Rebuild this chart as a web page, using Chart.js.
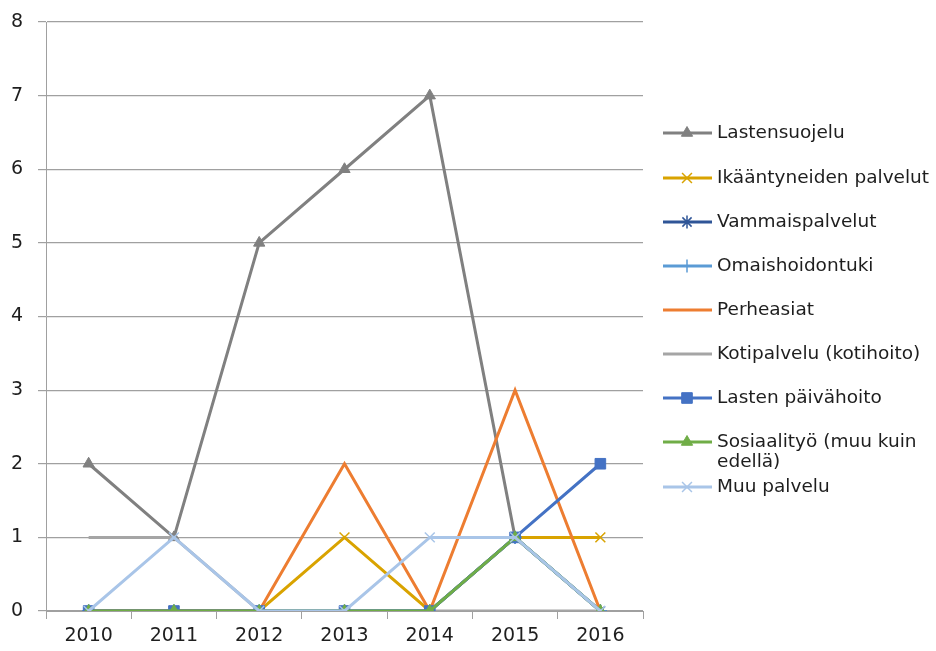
<!DOCTYPE html>
<html>
<head>
<meta charset="utf-8">
<script src="https://cdn.jsdelivr.net/npm/chart.js@4/dist/chart.umd.min.js"></script>
<style>
  html, body { margin: 0; padding: 0; background: #fff; }
  #wrap { width: 936px; height: 651px; }
</style>
</head>
<body>
<div id="wrap"><canvas id="grLine" width="936" height="651"></canvas></div>
<script>
const vuodet = ['2010', '2011', '2012', '2013', '2014', '2015', '2016'];

const lastensuojelu = [2, 1, 5, 6, 7, 1, 0];
const ikaantyneet = [0, 0, 0, 1, 0, 1, 1];
const vammais = [0, 0, 0, 0, 0, 1, 0];
const omaishoito = [0, 0, 0, 0, 0, 1, 0];
const perheasiat = [0, 0, 0, 2, 0, 3, 0];
const kotipalvelu = [1, 1, 0, 0, 0, 0, 0];
const paivahoito = [0, 0, 0, 0, 0, 1, 2];
const sosiaalityo = [0, 0, 0, 0, 0, 1, 0];
const muuPalvelu = [0, 1, 0, 0, 1, 1, 0];

const yTicks = [0, 1, 2, 3, 4, 5, 6, 7, 8];

const sarjat = [
    { nimi: ['Lastensuojelu'], data: lastensuojelu, vari: '#808080', merkki: 'triangle', koko: 6.5 },
    { nimi: ['Ikääntyneiden palvelut'], data: ikaantyneet, vari: '#d9a300', merkki: 'crossRot', koko: 7 },
    { nimi: ['Vammaispalvelut'], data: vammais, vari: '#2f5597', merkki: 'star', koko: 6.5 },
    { nimi: ['Omaishoidontuki'], data: omaishoito, vari: '#5b9bd5', merkki: 'cross', koko: 6.5 },
    { nimi: ['Perheasiat'], data: perheasiat, vari: '#ed7d31', merkki: false, koko: 0 },
    { nimi: ['Kotipalvelu (kotihoito)'], data: kotipalvelu, vari: '#a5a5a5', merkki: false, koko: 0 },
    { nimi: ['Lasten päivähoito'], data: paivahoito, vari: '#4472c4', merkki: 'rect', koko: 7.5 },
    { nimi: ['Sosiaalityö (muu kuin', 'edellä)'], data: sosiaalityo, vari: '#70ad47', merkki: 'triangle', koko: 6.5 },
    { nimi: ['Muu palvelu'], data: muuPalvelu, vari: '#a9c5e8', merkki: 'crossRot', koko: 7 }
];

const fontti = '"DejaVu Sans", "Liberation Sans", sans-serif';

/* oma selite oikealle */
const selitePlugin = {
    id: 'selitePlugin',
    afterDraw(chart) {
        const ctx = chart.ctx;
        const rivit = [133, 178, 222, 266, 310, 354, 398, 442, 487];
        ctx.save();
        sarjat.forEach((s, i) => {
            const y = rivit[i];
            ctx.strokeStyle = s.vari;
            ctx.lineWidth = 3;
            ctx.beginPath();
            ctx.moveTo(663, y);
            ctx.lineTo(712, y);
            ctx.stroke();
            if (s.merkki) {
                ctx.fillStyle = s.vari;
                ctx.lineWidth = s.merkki === 'triangle' || s.merkki === 'rect' ? 1 : 1.5;
                Chart.helpers.drawPoint(ctx, { pointStyle: s.merkki, radius: s.koko, rotation: 0, borderWidth: 1 }, 687, y);
            }
            ctx.fillStyle = '#1e1e1e';
            ctx.font = '18.5px ' + fontti;
            ctx.textAlign = 'left';
            ctx.textBaseline = 'middle';
            s.nimi.forEach((t, j) => ctx.fillText(t, 717, y + j * 20));
        });
        ctx.restore();
    }
};

const ctx = document.getElementById('grLine').getContext('2d');

new Chart(ctx, {
    type: 'line',
    data: {
        labels: vuodet,
        datasets: sarjat.map((s, i) => ({
            label: s.nimi.join(' '),
            data: s.data,
            borderColor: s.vari,
            backgroundColor: s.vari,
            borderWidth: 3,
            pointStyle: s.merkki,
            pointRadius: s.koko,
            pointBorderWidth: s.merkki === 'triangle' || s.merkki === 'rect' ? 1 : 1.5,
            tension: 0,
            order: sarjat.length - i
        }))
    },
    options: {
        responsive: false,
        animation: false,
        layout: { padding: { top: 22, right: 293, left: 0, bottom: 0 } },
        plugins: {
            legend: { display: false },
            tooltip: { enabled: false }
        },
        scales: {
            x: {
                offset: true,
                afterFit: (axis) => { axis.height = 40; axis.paddingLeft = 0; axis.paddingRight = 0; },
                grid: {
                    offset: true,
                    drawOnChartArea: false,
                    color: '#a0a0a0',
                    tickLength: 8
                },
                border: { color: '#a0a0a0', width: 1 },
                ticks: { color: '#1e1e1e', font: { family: fontti, size: 19 }, padding: 6 }
            },
            y: {
                min: 0,
                max: 8,
                afterBuildTicks: (axis) => { axis.ticks = yTicks.map(v => ({ value: v })); },
                afterFit: (axis) => { axis.width = 46; axis.paddingTop = 0; axis.paddingBottom = 0; },
                grid: { color: '#a0a0a0', tickLength: 8, lineWidth: 1.2 },
                border: { color: '#a0a0a0', width: 1 },
                ticks: { color: '#1e1e1e', font: { family: fontti, size: 19 }, padding: 15 }
            }
        }
    },
    plugins: [selitePlugin]
});
</script>
</body>
</html>
